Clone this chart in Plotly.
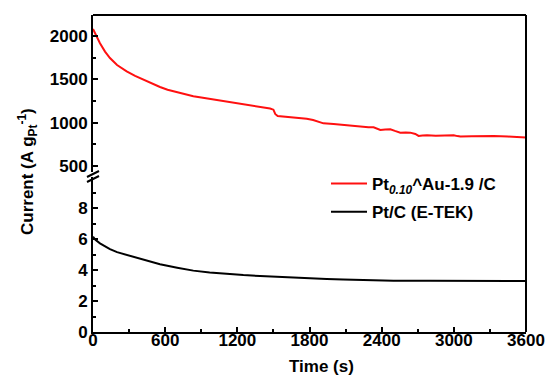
import plotly.graph_objects as go

# ---- data ----
time_red = [0, 20, 58, 100, 141, 200, 280, 350, 418, 500, 557, 620, 695, 760, 834, 900, 973, 1040,
            1111, 1180, 1250, 1320, 1389, 1440, 1472, 1500, 1515, 1535, 1600, 1666, 1720, 1777, 1830,
            1880, 1916, 2000, 2083, 2150, 2222, 2290, 2333, 2360, 2389, 2430, 2472, 2510, 2555, 2600,
            2638, 2680, 2707, 2740, 2777, 2850, 2920, 2999, 3030, 3055, 3150, 3250, 3333, 3450, 3600]
current_red = [2080, 2020, 1916, 1820, 1745, 1665, 1591, 1540, 1496, 1448, 1412, 1380, 1351, 1328,
               1305, 1290, 1275, 1258, 1240, 1225, 1210, 1196, 1183, 1172, 1164, 1150, 1100, 1078,
               1070, 1057, 1048, 1045, 1030, 1005, 992, 985, 973, 965, 954, 948, 946, 930, 916, 920,
               924, 905, 885, 886, 885, 870, 847, 852, 855, 850, 852, 855, 845, 840, 842, 846, 847,
               840, 828]

time_black = [0, 20, 58, 100, 141, 200, 280, 350, 418, 490, 557, 700, 834, 970, 1111, 1250, 1389,
              1530, 1666, 1800, 1943, 2080, 2222, 2360, 2499, 2800, 3100, 3400, 3600]
current_black = [6.15, 5.95, 5.72, 5.52, 5.35, 5.15, 4.97, 4.80, 4.65, 4.50, 4.37, 4.15, 3.96, 3.84,
                 3.74, 3.67, 3.61, 3.55, 3.50, 3.46, 3.42, 3.38, 3.35, 3.33, 3.31, 3.30, 3.29, 3.29,
                 3.29]

name_red = "Pt<sub><i>0.10</i></sub>^Au-1.9 /C"
name_black = "Pt/C (E-TEK)"

x_ticks = [0, 600, 1200, 1800, 2400, 3000, 3600]
y_upper_ticks = [500, 1000, 1500, 2000]
y_lower_ticks = [0, 2, 4, 6, 8]

FONT = "Arial, Liberation Sans, sans-serif"

fig = go.Figure()
fig.add_trace(go.Scatter(x=time_red, y=current_red, mode="lines", name=name_red,
                         legendgroup="a",
                         line=dict(color="#ff1010", width=2), yaxis="y2", xaxis="x"))
fig.add_trace(go.Scatter(x=time_black, y=current_black, mode="lines", name=name_black,
                         legendgroup="b",
                         line=dict(color="black", width=2), yaxis="y", xaxis="x"))

W, H = 546, 377
L, R, T, B = 93, 20, 15, 45
ph = H - T - B
pw = W - L - R

def py(pix):
    return (H - B - pix) / ph

def px(pix):
    return (pix - L) / pw

tickfont = dict(family=FONT, size=17, color="black", weight="bold")

axis_common = dict(showline=True, linewidth=2, linecolor="black", ticks="inside", ticklen=5,
                   tickwidth=2, tickcolor="black", showgrid=False, zeroline=False,
                   tickfont=tickfont, automargin=False)

fig.update_layout(
    width=W, height=H,
    margin=dict(l=L, r=R, t=T, b=B, autoexpand=False),
    paper_bgcolor="white", plot_bgcolor="white",
    font=dict(family=FONT, size=17, color="black"),
    xaxis=dict(range=[0, 3600], tickvals=x_ticks, anchor="y", ticklabelstandoff=-8,
               minor=dict(dtick=300, ticks="inside", ticklen=3, tickwidth=2, tickcolor="black"),
               **axis_common),
    yaxis=dict(domain=[0, py(177)], range=[0, 10.0], tickvals=y_lower_ticks, anchor="x",
               minor=dict(dtick=1, ticks="inside", ticklen=3, tickwidth=2, tickcolor="black"),
               **axis_common),
    yaxis2=dict(domain=[py(172), 1], range=[431, 2242], tickvals=y_upper_ticks, anchor="x",
                minor=dict(dtick=250, ticks="inside", ticklen=3, tickwidth=2, tickcolor="black"),
                **axis_common),
    showlegend=True,
    legend=dict(x=px(326), y=py(166), xanchor="left", yanchor="top",
                traceorder="grouped", itemwidth=36,
                font=dict(family=FONT, size=17, color="black", weight="bold"),
                bgcolor="rgba(0,0,0,0)", tracegroupgap=3),
)

# frame top & right
fig.add_shape(type="line", xref="paper", yref="paper", x0=0, x1=1, y0=1, y1=1,
              line=dict(color="black", width=2))
fig.add_shape(type="line", xref="paper", yref="paper", x0=1, x1=1, y0=0, y1=1,
              line=dict(color="black", width=2))
# axis break marks
for dy in (0, 5):
    fig.add_shape(type="line", xref="paper", yref="paper",
                  x0=px(87), x1=px(99), y0=py(177 + dy), y1=py(171 + dy),
                  line=dict(color="black", width=2))

fig.add_annotation(text="Current (A g<sub>Pt</sub><sup>-1</sup>)", xref="paper", yref="paper",
                   x=px(27), y=py(172), textangle=-90, showarrow=False,
                   xanchor="center", yanchor="middle",
                   font=dict(family=FONT, size=17, color="black", weight="bold"))
fig.add_annotation(text="Time (s)", xref="paper", yref="paper",
                   x=px(321), y=py(366), showarrow=False,
                   xanchor="center", yanchor="middle",
                   font=dict(family=FONT, size=17, color="black", weight="bold"))

fig.write_html("out.html", config={"displayModeBar": False},
               post_script="document.body.style.margin='0';document.body.style.overflow='hidden';")
